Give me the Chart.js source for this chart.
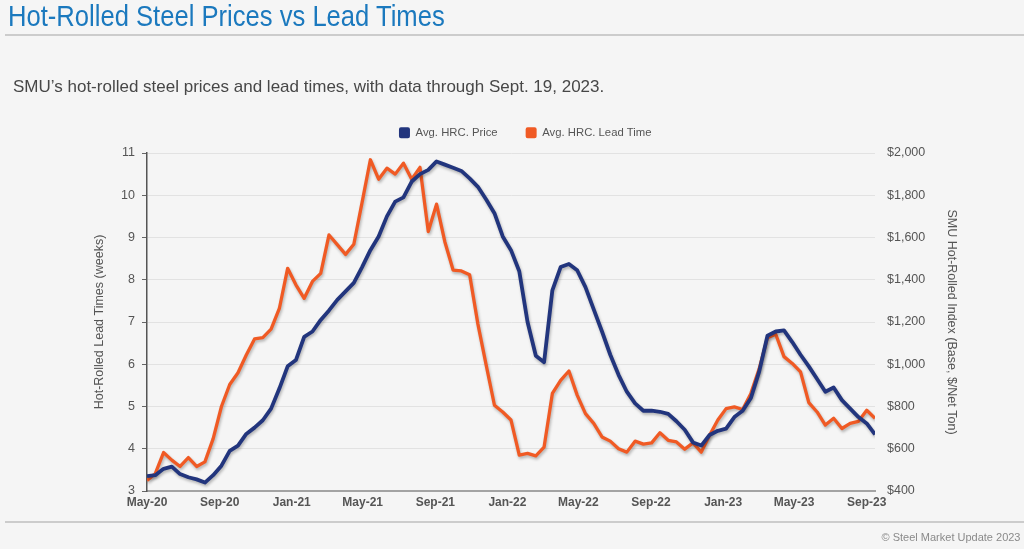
<!DOCTYPE html>
<html>
<head>
<meta charset="utf-8">
<script src="https://cdn.jsdelivr.net/npm/chart.js@4"></script>
<style>
  html, body { margin: 0; padding: 0; background: #f5f5f5; width: 1024px; height: 549px; overflow: hidden; font-family: "Liberation Sans", Arial, sans-serif; }
  #wrap { position: absolute; left: 0; top: 0; width: 1024px; height: 549px; }
  .ov { position: absolute; white-space: nowrap; line-height: 1; pointer-events: none; }
  #title { left: 8px; top: 1.7px; font-size: 25.6px; color: #1b79be; transform: scaleY(1.12); transform-origin: left top; }
  #rule1 { left: 5px; right: 0; top: 33.5px; height: 2px; background: #cccccc; }
  #sub { left: 13px; top: 78.3px; font-size: 17px; color: #474747; }
  #rule2 { left: 5px; right: 0; top: 520.5px; height: 2px; background: #cccccc; }
  #foot { right: 3.5px; top: 531.7px; font-size: 11px; color: #8a8a8a; }
</style>
</head>
<body>
<div id="wrap"><canvas id="c"></canvas></div>
<div class="ov" id="title">Hot-Rolled Steel Prices vs Lead Times</div>
<div class="ov" id="rule1"></div>
<div class="ov" id="sub">SMU’s hot-rolled steel prices and lead times, with data through Sept. 19, 2023.</div>
<div class="ov" id="rule2"></div>
<div class="ov" id="foot">© Steel Market Update 2023</div>
<script>
// ---------------- DATA ----------------
// Observations every two weeks starting 2020-05-01
const startDate = '2020-05-01';
const stepDays = 14;

// SMU hot-rolled index, $/net ton (right axis)
const hrcPrice = [
  470, 475, 505, 515, 480, 465, 455, 440, 475, 520,
  590, 615, 670, 700, 735, 790, 885, 990, 1020, 1130,
  1155, 1210, 1255, 1305, 1345, 1385, 1460, 1540, 1605, 1700,
  1770, 1790, 1865, 1900, 1920, 1960, 1945, 1930, 1915, 1880,
  1840, 1780, 1715, 1605, 1540, 1440, 1200, 1040, 1010, 1350,
  1460, 1475, 1445, 1365, 1260, 1155, 1045, 950, 870, 815,
  780, 780, 775, 765, 730, 690, 630, 615, 665, 685,
  695, 750, 780, 840, 965, 1135, 1155, 1160, 1105, 1045,
  990, 930, 870, 890, 830, 790, 750, 720, 668
];

// Hot-rolled lead times, weeks (left axis)
const hrcLead = [
  3.25, 3.41, 3.91, 3.73, 3.58, 3.79, 3.58, 3.69, 4.24, 5.00,
  5.52, 5.80, 6.22, 6.60, 6.63, 6.83, 7.32, 8.27, 7.88, 7.56,
  7.96, 8.15, 9.06, 8.83, 8.60, 8.84, 9.83, 10.84, 10.38, 10.64,
  10.50, 10.76, 10.38, 10.66, 9.14, 9.79, 8.90, 8.23, 8.21, 8.12,
  6.95, 5.98, 5.03, 4.87, 4.68, 3.85, 3.89, 3.83, 4.04, 5.31,
  5.62, 5.84, 5.27, 4.83, 4.60, 4.28, 4.18, 4.00, 3.92, 4.18,
  4.11, 4.14, 4.38, 4.20, 4.16, 3.99, 4.14, 3.92, 4.32, 4.68,
  4.95, 4.99, 4.93, 5.31, 5.89, 6.63, 6.71, 6.18, 6.02, 5.82,
  5.09, 4.87, 4.56, 4.72, 4.48, 4.60, 4.65, 4.91, 4.72
];

// X-axis tick dates and labels
const tickDates = ['2020-05-01','2020-09-01','2021-01-01','2021-05-01','2021-09-01','2022-01-01',
                   '2022-05-01','2022-09-01','2023-01-01','2023-05-01','2023-09-01'];
const tickLabels = ['May-20','Sep-20','Jan-21','May-21','Sep-21','Jan-22',
                    'May-22','Sep-22','Jan-23','May-23','Sep-23'];

const seriesNames = ['Avg. HRC. Price', 'Avg. HRC. Lead Time'];
const leftAxisTitle = 'Hot-Rolled Lead Times (weeks)';
const rightAxisTitle = 'SMU Hot-Rolled Index (Base, $/Net Ton)';

// ---------------- BUILD ----------------
const DAY = 86400000;
const t0 = Date.parse(startDate + 'T00:00:00Z');
const dayOf = s => Math.round((Date.parse(s + 'T00:00:00Z') - t0) / DAY);
const tickDays = tickDates.map(dayOf);
const pricePts = hrcPrice.map((v, i) => ({ x: i * stepDays, y: v }));
const leadPts = hrcLead.map((v, i) => ({ x: i * stepDays, y: v }));
const lastDay = (Math.max(hrcPrice.length, hrcLead.length) - 1) * stepDays;

Chart.defaults.font.family = '"Liberation Sans", Arial, sans-serif';
Chart.defaults.color = '#555';

const shadowPlugin = {
  id: 'lineShadow',
  beforeDatasetsDraw(chart) {
    const c = chart.ctx;
    c.save();
    c.shadowColor = 'rgba(0,0,0,0.28)';
    c.shadowBlur = 3;
    c.shadowOffsetX = 1;
    c.shadowOffsetY = 2;
  },
  afterDatasetsDraw(chart) { chart.ctx.restore(); }
};

const LEGEND_H = 54;
const legendSpacer = {
  id: 'legendSpacer',
  beforeUpdate(chart) {
    const lg = chart.legend;
    if (lg && !lg._patched) {
      const f = lg.fit;
      lg.fit = function () { f.call(this); this.height = LEGEND_H; };
      lg._patched = true;
    }
  }
};

new Chart(document.getElementById('c'), {
  type: 'line',
  data: {
    datasets: [
      {
        label: seriesNames[0], data: pricePts, yAxisID: 'yR',
        borderColor: '#22357d', backgroundColor: '#22357d',
        borderWidth: 3.8, pointRadius: 0, tension: 0, borderJoinStyle: 'round'
      },
      {
        label: seriesNames[1], data: leadPts, yAxisID: 'yL',
        borderColor: '#f05a24', backgroundColor: '#f05a24',
        borderWidth: 3.3, pointRadius: 0, tension: 0, borderJoinStyle: 'round'
      }
    ]
  },
  options: {
    responsive: true,
    maintainAspectRatio: false,
    animation: false,
    layout: { padding: { left: 88, right: 61.5, top: 99, bottom: 38 } },
    plugins: {
      tooltip: { enabled: false },
      legend: {
        position: 'top',
        labels: {
          boxWidth: 11, boxHeight: 11, padding: 28,
          font: { size: 11.3 }, color: '#555',
          useBorderRadius: true, borderRadius: 2,
          generateLabels(chart) {
            const items = Chart.defaults.plugins.legend.labels.generateLabels(chart);
            items.forEach(it => { it.lineWidth = 0; });
            return items;
          }
        }
      }
    },
    scales: {
      x: {
        type: 'linear', position: 'bottom', min: 0, max: lastDay,
        grid: { display: false, drawTicks: false },
        border: { display: true, color: '#a3a3a3', width: 2 },
        afterBuildTicks: s => { s.ticks = tickDays.map(v => ({ value: v })); },
        afterFit: s => { s.height = 20; },
        ticks: {
          autoSkip: false, maxRotation: 0, padding: 4,
          font: { size: 12, weight: 'bold' }, color: '#555',
          callback: v => { const k = tickDays.indexOf(v); return k >= 0 ? tickLabels[k] : ''; }
        }
      },
      yL: {
        type: 'linear', position: 'left', min: 3, max: 11,
        afterFit: s => { s.width = 59; },
        ticks: { stepSize: 1, padding: 7, font: { size: 12.5 }, color: '#555' },
        grid: { color: '#e2e2e2', lineWidth: 1, drawTicks: true, tickLength: 5, tickColor: '#666' },
        border: { color: '#555', width: 1.5 },
        title: { display: true, text: leftAxisTitle, font: { size: 12.5 }, color: '#555' }
      },
      yR: {
        type: 'linear', position: 'right', min: 400, max: 2000,
        afterFit: s => { s.width = 87.5; },
        ticks: {
          stepSize: 200, padding: 12, font: { size: 12.5 }, color: '#555',
          callback: v => '$' + Number(v).toLocaleString('en-US')
        },
        grid: { display: false, drawTicks: false },
        border: { display: false },
        title: { display: true, text: rightAxisTitle, font: { size: 12.5 }, color: '#555' }
      }
    }
  },
  plugins: [shadowPlugin, legendSpacer]
});
</script>
</body>
</html>
